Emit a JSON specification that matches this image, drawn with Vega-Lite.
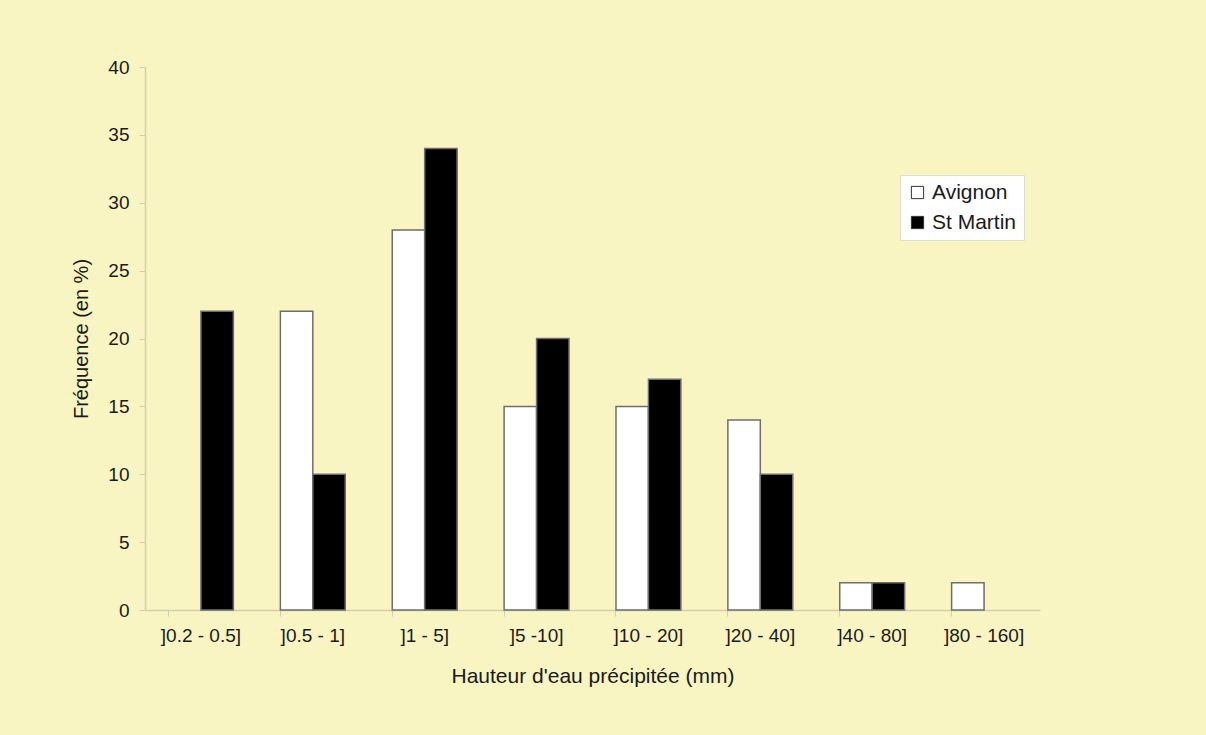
{
  "$schema": "https://vega.github.io/schema/vega-lite/v6.json",
  "width": 895,
  "height": 543,
  "autosize": "none",
  "padding": {"left": 145, "top": 67, "right": 166, "bottom": 125},
  "background": "#f8f5c2",
  "config": {
    "font": "Liberation Sans",
    "view": {"stroke": null},
    "axis": {"grid": false, "domainColor": "#d2cfae", "tickColor": "#d2cfae", "labelColor": "#1a1a1a", "titleColor": "#1a1a1a", "labelFontSize": 19, "titleFontSize": 21, "titleFontWeight": "normal", "labelFont": "Liberation Sans", "titleFont": "Liberation Sans"}
  },
  "data": {
    "values": [
      {"classe": "]0.2 - 0.5]", "station": "St Martin", "freq": 22},
      {"classe": "]0.5 - 1]", "station": "Avignon", "freq": 22},
      {"classe": "]0.5 - 1]", "station": "St Martin", "freq": 10},
      {"classe": "]1 - 5]", "station": "Avignon", "freq": 28},
      {"classe": "]1 - 5]", "station": "St Martin", "freq": 34},
      {"classe": "]5 -10]", "station": "Avignon", "freq": 15},
      {"classe": "]5 -10]", "station": "St Martin", "freq": 20},
      {"classe": "]10 - 20]", "station": "Avignon", "freq": 15},
      {"classe": "]10 - 20]", "station": "St Martin", "freq": 17},
      {"classe": "]20 - 40]", "station": "Avignon", "freq": 14},
      {"classe": "]20 - 40]", "station": "St Martin", "freq": 10},
      {"classe": "]40 - 80]", "station": "Avignon", "freq": 2},
      {"classe": "]40 - 80]", "station": "St Martin", "freq": 2},
      {"classe": "]80 - 160]", "station": "Avignon", "freq": 2}
    ]
  },
  "mark": {"type": "bar", "stroke": "#6e6e6e", "strokeWidth": 1.5},
  "encoding": {
    "x": {
      "field": "classe", "type": "nominal",
      "sort": ["]0.2 - 0.5]", "]0.5 - 1]", "]1 - 5]", "]5 -10]", "]10 - 20]", "]20 - 40]", "]40 - 80]", "]80 - 160]"],
      "scale": {"paddingInner": 0.42, "paddingOuter": 0.21},
      "axis": {"title": "Hauteur d'eau précipitée (mm)", "labelAngle": 0, "bandPosition": 0, "tickSize": 6, "labelPadding": 10, "titlePadding": 20, "domainWidth": 1.5}
    },
    "xOffset": {"field": "station", "type": "nominal", "sort": ["Avignon", "St Martin"], "scale": {"paddingInner": 0, "paddingOuter": 0}},
    "y": {
      "field": "freq", "type": "quantitative",
      "scale": {"domain": [0, 40]},
      "axis": {"title": "Fréquence (en %)", "titleFontSize": 20, "values": [0, 5, 10, 15, 20, 25, 30, 35, 40], "tickSize": 6, "labelPadding": 10, "titlePadding": 16, "domainWidth": 1.5}
    },
    "color": {
      "field": "station", "type": "nominal",
      "scale": {"domain": ["Avignon", "St Martin"], "range": ["#ffffff", "#000000"]},
      "legend": {"title": null, "orient": "none", "legendX": 755, "legendY": 108, "symbolType": "square", "symbolSize": 150, "symbolStrokeColor": "#333333", "symbolStrokeWidth": 1, "labelFontSize": 21, "labelColor": "#1a1a1a", "labelFont": "Liberation Sans", "fillColor": "#ffffff", "strokeColor": "#e0ddc8", "padding": 7, "rowPadding": 8, "labelOffset": 4}
    }
  }
}
